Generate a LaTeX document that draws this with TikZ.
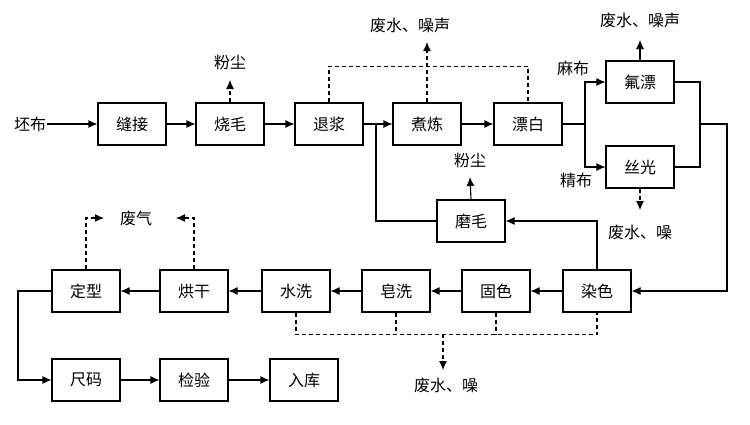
\documentclass[tikz,border=0pt]{standalone}
\usepackage{fontspec}
\setmainfont{Noto Sans CJK SC}
\usetikzlibrary{arrows.meta}
\begin{document}
\begin{tikzpicture}[x=1pt,y=-1pt,
 box/.style={draw,line width=1.1pt,minimum width=68pt,minimum height=42pt,font=\fontsize{16}{16}\selectfont,inner sep=0pt},
 lbl/.style={font=\fontsize{16}{16}\selectfont,inner sep=1pt},
 ln/.style={line width=1.1pt},
 tip/.style={-{Latex[length=9pt,width=8pt]}},
 ar/.style={ln,tip},
 da/.style={ln,dash pattern=on 4pt off 3pt}]
\useasboundingbox (0,0) rectangle (750,424);
\node[box] (fj) at (132,124) {缝接};
\node[box] (sm) at (230,124) {烧毛};
\node[box] (tj) at (329,124) {退浆};
\node[box] (zl) at (427,124) {煮炼};
\node[box] (pb) at (528,124) {漂白};
\node[box] (fp) at (640,82) {氟漂};
\node[box] (sg) at (640,167) {丝光};
\node[box] (mm) at (471,221) {磨毛};
\node[box] (rs) at (597,291) {染色};
\node[box] (gs) at (496,291) {固色};
\node[box] (zx) at (396,291) {皂洗};
\node[box] (sx) at (296,291) {水洗};
\node[box] (hg) at (194,291) {烘干};
\node[box] (dx) at (86,291) {定型};
\node[box] (cm) at (86,380) {尺码};
\node[box] (jy) at (194,380) {检验};
\node[box] (rk) at (304,380) {入库};
\node[lbl] (pbl) at (30,124) {坯布};
\node[lbl] (fc1) at (230,62) {粉尘};
\node[lbl] (fs1) at (410,25) {废水、噪声};
\node[lbl] (fs2) at (640,20) {废水、噪声};
\node[lbl] (mb) at (573,68) {麻布};
\node[lbl] (jb) at (576,180) {精布};
\node[lbl] (fs3) at (640,232) {废水、噪};
\node[lbl] (fc2) at (470,160) {粉尘};
\node[lbl] (fq) at (136,218) {废气};
\node[lbl] (fs4) at (446,385) {废水、噪};
\coordinate (c1) at (230,80);
\coordinate (c2) at (427,42);
\coordinate (c3) at (640,40);
\coordinate (c4) at (640,210);
\coordinate (c5) at (470,177);
\coordinate (c6) at (104,218);
\coordinate (c7) at (176,218);
\coordinate (c8) at (443,370);
\draw[ar] (pbl) -- (fj);
\draw[ar] (fj) -- (sm);
\draw[ar] (sm) -- (tj);
\draw[ar] (tj) -- (zl);
\draw[ar] (zl) -- (pb);
\draw[da,tip] (sm.north) -- (c1);
\draw[da] (tj.north) -- ++(0,-36) -| (pb.north);
\draw[da,tip] (zl.north) -- (c2);
\draw[ar] (fp.north) -- (c3);
\coordinate (br) at (585,124);
\draw[ln] (pb.east) -- (br);
\draw[ar] (br) |- (fp.west);
\draw[ar] (br) |- (sg.west);
\draw[da,tip] (sg.south) -- (c4);
\coordinate (mg) at (700,124);
\draw[ln] (fp.east) -| (mg) |- (sg.east);
\draw[ar] (mg) -- (727,124) |- (rs.east);
\draw[ar] (rs.north) |- (mm.east);
\draw[ln] (mm.west) -| (376,124);
\draw[ar] (mm.north) -- (c5);
\draw[ar] (rs) -- (gs);
\draw[ar] (gs) -- (zx);
\draw[ar] (zx) -- (sx);
\draw[ar] (sx) -- (hg);
\draw[ar] (hg) -- (dx);
\draw[da,tip] (dx.north) |- (c6);
\draw[da,tip] (hg.north) |- (c7);
\draw[da] (sx.south) -- ++(0,22) -| (rs.south);
\draw[da] (zx.south) -- ++(0,22);
\draw[da] (gs.south) -- ++(0,22);
\draw[da,tip] (443,334) -- (c8);
\draw[ar] (dx.west) -- (18,291) |- (cm.west);
\draw[ar] (cm) -- (jy);
\draw[ar] (jy) -- (rk);
\end{tikzpicture}
\end{document}
